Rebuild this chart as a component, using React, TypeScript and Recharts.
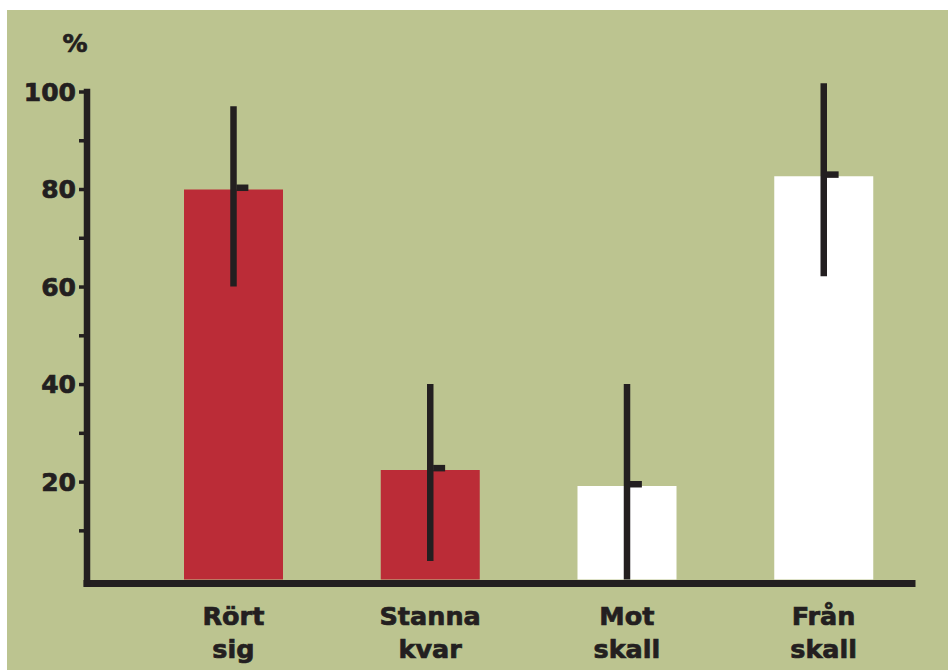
import React from "react";
import { ComposedChart, Bar, Line, XAxis, YAxis, ErrorBar, Cell } from "recharts";

const categories = ["Rört sig", "Stanna kvar", "Mot skall", "Från skall"];
const values = [80, 22.5, 19.2, 82.7];
const errLow = [60.1, 3.8, 0, 62.2];
const errHigh = [97.1, 40.1, 40.1, 101.8];
const yTicks = [10, 20, 30, 40, 50, 60, 70, 80, 90, 100];
const yLabelTicks = [20, 40, 60, 80, 100];

const INK = "#231f20";
const RED = "#bb2c37";
const BG = "#bcc490";
const FONT = "'DejaVu Sans', sans-serif";
const barFills = [RED, RED, "#ffffff", "#ffffff"];

const chartData = categories.map((name, i) => ({
  name,
  value: values[i],
  err: [values[i] - errLow[i], errHigh[i] - values[i]],
}));

// two-line category label, heavier than plain bold
const CategoryTick = ({ x, y, payload }: any) => {
  const [first, second] = String(payload.value).split(" ");
  return (
    <text
      x={x}
      y={y}
      textAnchor="middle"
      fill={INK}
      stroke={INK}
      strokeWidth={0.7}
      fontFamily={FONT}
      fontWeight={700}
      fontSize={25.5}
    >
      <tspan x={x} dy={41.5}>
        {first}
      </tspan>
      <tspan x={x} dy={33}>
        {second}
      </tspan>
    </text>
  );
};

const MeanTick = ({ cx, cy }: any) => {
  if (cx == null || cy == null) return null;
  return <rect x={cx + 3} y={cy - 5} width={12} height={6.5} fill={INK} />;
};

const PercentLabel = ({ viewBox }: any) => (
  <text
    x={viewBox.x + viewBox.width - 12}
    y={viewBox.y - 40}
    textAnchor="middle"
    fill={INK}
    stroke={INK}
    strokeWidth={0.7}
    fontFamily={FONT}
    fontWeight={700}
    fontSize={25}
  >
    %
  </text>
);

export default function App() {
  return (
    <div
      style={{
        position: "absolute",
        left: 7,
        top: 10,
        width: 941,
        height: 660,
        background: BG,
      }}
    >
      <ComposedChart
        width={941}
        height={660}
        data={chartData}
        margin={{ top: 82, right: 36, left: 0, bottom: 0 }}
      >
        <XAxis
          dataKey="name"
          height={86.5}
          padding={{ left: 48, right: -10 }}
          axisLine={{ stroke: INK, strokeWidth: 7, strokeLinecap: "square" }}
          tickLine={false}
          tickSize={0}
          tickMargin={0}
          tick={<CategoryTick />}
          interval={0}
        />
        <YAxis
          width={80}
          type="number"
          domain={[-0.8, 100]}
          allowDataOverflow
          ticks={yTicks}
          interval={0}
          tickFormatter={(v: number) => (yLabelTicks.includes(v) ? String(v) : "")}
          axisLine={{ stroke: INK, strokeWidth: 6.5, strokeLinecap: "square" }}
          tickLine={{ stroke: INK, strokeWidth: 3.5 }}
          tickSize={8}
          tickMargin={3}
          tick={{
            fill: INK,
            stroke: INK,
            strokeWidth: 0.7,
            fontFamily: FONT,
            fontWeight: 700,
            fontSize: 25,
          }}
          label={PercentLabel}
        />
        <Bar dataKey="value" barSize={99} isAnimationActive={false}>
          {chartData.map((d, i) => (
            <Cell key={d.name} fill={barFills[i]} />
          ))}
          <ErrorBar
            dataKey="err"
            direction="y"
            width={0}
            stroke={INK}
            strokeWidth={6.5}
            isAnimationActive={false}
          />
        </Bar>
        <Line
          dataKey="value"
          stroke="none"
          dot={<MeanTick />}
          activeDot={false}
          isAnimationActive={false}
        />
      </ComposedChart>
    </div>
  );
}
